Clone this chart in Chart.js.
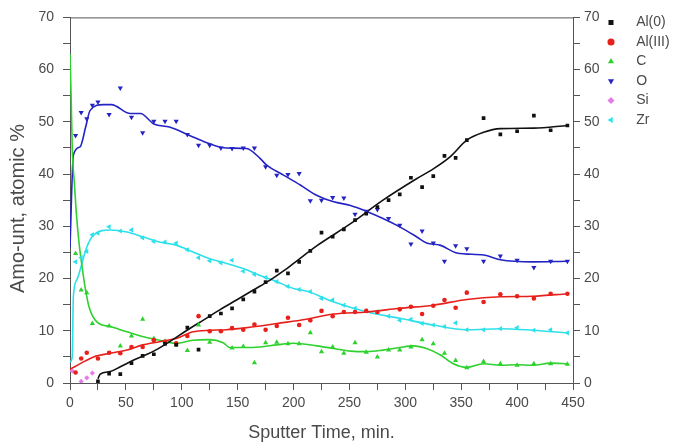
<!DOCTYPE html>
<html>
<head>
<meta charset="utf-8">
<script src="https://cdn.jsdelivr.net/npm/chart.js@4.4.1/dist/chart.umd.min.js"></script>
<style>
  html, body { margin: 0; padding: 0; background: #fff; }
  #wrap { width: 677px; height: 448px; }
</style>
</head>
<body>
<div id="wrap"><canvas id="depthProfile"></canvas></div>
<script>
// sputter time (min) / atomic % pairs
const al0Points = [[25,0.3],[35,1.8],[45,1.7],[55,3.8],[65,5.2],[75,5.5],[85,7.5],[95,7.3],[105,10.6],[115,6.4],
  [125,12.8],[135,13.3],[145,14.3],[155,16],[165,17.5],[175,19.3],[185,21.5],[195,21],[205,23.2],[215,25.3],
  [225,28.8],[235,28],[245,29.4],[255,31.2],[265,32.4],[275,33.7],[285,35],[295,36.1],[305,39.3],[315,37.5],
  [325,39.6],[335,43.5],[345,43.1],[355,46.5],[370,50.7],[385,47.6],[400,48.2],[415,51.2],[430,48.4],[445,49.3]];
const al3Points = [[5,2],[10,4.7],[15,5.8],[25,4.7],[35,5.8],[45,5.7],[55,6.9],[65,6.9],[75,8.2],[85,7.9],
  [95,7.6],[105,9],[115,12.8],[125,9.9],[135,9.9],[145,10.5],[155,10.2],[165,11.2],[175,10.2],[185,10.9],
  [195,12.5],[205,11.1],[215,12],[225,13.8],[235,12.8],[245,13.6],[255,13.6],[265,13.8],[275,13.6],[295,14.1],
  [305,14.6],[315,13.2],[325,14.8],[335,15.9],[345,14.4],[355,17.3],[370,15.5],[385,17],[400,16.6],[415,16.2],
  [430,17.1],[445,17.1]];
const cPoints = [[5,24.8],[10,17.8],[15,17.3],[20,11.4],[35,10.9],[45,7.1],[55,9],[65,12.2],[75,8.5],[85,8],
  [95,7.4],[105,6.2],[115,11.1],[125,7.8],[145,6.7],[155,7],[165,3.9],[175,7.7],[185,7.8],[195,7.5],[205,7.5],
  [215,9.6],[225,6],[235,6.9],[245,5.7],[255,7.7],[265,5.9],[275,5],[285,6.3],[295,6.3],[305,6.9],[315,8.3],
  [325,7.5],[335,5.7],[345,4.3],[355,2.9],[370,4.1],[385,3.7],[400,3.4],[415,3.7],[430,3.7],[445,3.6]];
const oPoints = [[5,47.4],[10,51.8],[15,50.6],[20,53.2],[25,53.8],[35,51.4],[45,56.5],[55,50.9],[65,47.9],[75,50.1],
  [85,50.1],[95,50.1],[105,47.6],[115,45.5],[125,45.5],[135,45],[145,44.9],[155,45],[165,45],[175,41.4],
  [185,39.8],[195,39.9],[205,40.1],[215,34.9],[225,35],[235,35.5],[245,35.4],[255,32.3],[265,32.9],[275,33.2],
  [285,31.5],[295,30.2],[305,26.6],[315,29.1],[325,26.8],[335,23.3],[345,26.3],[355,25.7],[370,23.3],[385,24.3],
  [400,23.5],[415,22.1],[430,23.3],[445,23.3]];
const siPoints = [[2,2.3],[10,0.3],[15,1],[20,1.9]];
const zrPoints = [[5,23.2],[10,24],[15,25.2],[20,28.4],[25,28.7],[35,29.9],[45,29.1],[55,29.3],[65,27.8],[75,27.1],
  [85,27],[95,26.8],[105,25.5],[115,24],[125,23.4],[135,23],[145,23.5],[155,21.4],[165,20.8],[175,20.2],
  [185,19.4],[195,18.5],[205,17.9],[215,17.5],[225,16.2],[235,15.9],[245,14.9],[255,14.3],[265,13.8],[275,13.6],
  [285,12.8],[295,12],[305,12.2],[315,11.4],[325,11.1],[335,10.8],[345,11.5],[355,10.2],[370,10.2],[385,10.4],
  [400,10.6],[415,10.1],[430,10.2],[445,9.6]];

// smoothed curves
const al0Curve = [[25,0.8],[27,1.7],[36,2.2],[45,3.1],[57,4.4],[74,6],[89,7.9],[104,10],[119,12],[134,14],[149,15.9],
  [164,17.8],[179,19.7],[192,21.6],[200,22.9],[221,26.3],[251,30.5],[280,35],[310,39.1],[325,41],[340,43.3],
  [355,46.5],[370,48],[385,48.7],[415,48.8],[445,49.3]];
const al3Curve = [[0,2.6],[10,3.8],[21,5],[36,5.7],[51,6.3],[65,7.3],[80,7.9],[95,8.5],[110,9.8],[125,10.1],[140,10.2],
  [155,10.5],[170,10.9],[185,11.4],[206,12],[236,13.2],[266,13.6],[295,14.3],[325,14.9],[355,16],[385,16.5],
  [414,16.6],[445,17.1]];
const cCurve = [[0,63],[1,55],[2,45],[4,38],[5.5,33],[8,27],[11,22],[13,19],[17,14.6],[24,11.7],[36,10.8],[51,9.8],
  [65,8.9],[80,8.2],[95,7.6],[110,8.2],[125,8.3],[137,7.7],[143,6.8],[155,6.8],[170,6.9],[185,7.3],[200,7.6],
  [221,7.1],[236,6.6],[251,6.1],[266,6],[280,6.3],[295,6.8],[307,7.1],[319,6.6],[331,5.4],[343,3.7],[355,3],
  [370,3.7],[385,3.4],[400,3.5],[414,3.4],[430,3.8],[445,3.7]];
const oCurve = [[0,26],[3,43.6],[9,45.2],[14,49],[18,52.2],[30,53.3],[37,53.3],[54,51.6],[63,51.6],[75,49.6],[89,49],
  [110,47.1],[125,45.8],[140,45],[158,44.9],[170,43],[176,41.7],[191,39.8],[206,37.9],[221,35.9],[236,34.7],
  [251,34],[266,32.8],[280,31.5],[295,29.9],[310,28],[319,26.8],[331,26.4],[346,24.9],[370,24.5],[385,23.6],
  [414,23.2],[445,23.3]];
const zrCurve = [[0,4],[2,5],[3,16.5],[6,19.7],[15,26],[21,28.3],[36,29.3],[51,28.9],[65,28],[80,27],[95,26.4],
  [110,25.1],[125,23.8],[140,22.9],[155,21.9],[170,20.6],[185,19.4],[200,18.1],[213,17.5],[236,15.5],[266,13.6],
  [295,12.4],[325,11.1],[355,10.2],[385,10.4],[414,10.1],[445,9.6]];

const seriesNames = ['Al(0)', 'Al(III)', 'C', 'O', 'Si', 'Zr'];
const xTickLabels = [0, 50, 100, 150, 200, 250, 300, 350, 400, 450];
const yTickLabels = [0, 10, 20, 30, 40, 50, 60, 70];

const toXY = arr => arr.map(p => ({x: p[0], y: p[1]}));

const pointSets = [al0Points, al3Points, cPoints, oPoints, siPoints, zrPoints];
const curveSets = [al0Curve, al3Curve, cCurve, oCurve, null, zrCurve];
const colors = ['#111111', '#e8201c', '#2ed12e', '#2424c4', '#e67ae6', '#2ee0ea'];
const markers = [
  {style: 'rect', rot: 0, r: 2.6},
  {style: 'circle', rot: 0, r: 2.3},
  {style: 'triangle', rot: 0, r: 3},
  {style: 'triangle', rot: 180, r: 3},
  {style: 'rectRot', rot: 0, r: 2.6},
  {style: 'triangle', rot: 270, r: 3}
];

const datasets = [];
seriesNames.forEach((name, i) => {
  datasets.push({
    label: name,
    data: toXY(pointSets[i]),
    backgroundColor: colors[i],
    borderColor: colors[i],
    pointStyle: markers[i].style,
    pointRotation: markers[i].rot,
    pointRadius: markers[i].r,
    borderWidth: 0,
    showLine: false
  });
});
seriesNames.forEach((name, i) => {
  if (!curveSets[i]) return;
  datasets.push({
    label: 'fit ' + name,
    data: toXY(curveSets[i]),
    borderColor: colors[i],
    borderWidth: 1.6,
    pointRadius: 0,
    showLine: true,
    cubicInterpolationMode: 'monotone'
  });
});

const axisColor = '#555';
const textColor = '#4a4a4a';
const fontFamily = 'Liberation Sans, Arial, sans-serif';
const tickFont = {family: fontFamily, size: 14};

function yAxis(position, width, pad) {
  return {
    type: 'linear', position: position, min: 0, max: 70,
    afterFit: s => { s.width = width; },
    ticks: {
      stepSize: 5, color: textColor, font: tickFont, padding: pad,
      callback: v => yTickLabels.includes(v) ? v : ''
    },
    grid: {drawOnChartArea: false, drawTicks: true, tickLength: 7, color: axisColor},
    border: {display: true, color: axisColor, width: 1}
  };
}

const topLine = {
  id: 'topLine',
  afterDraw(chart) {
    const {ctx, chartArea} = chart;
    ctx.save();
    ctx.strokeStyle = axisColor;
    ctx.lineWidth = 1;
    ctx.beginPath();
    ctx.moveTo(chartArea.left, chartArea.top + 0.5);
    ctx.lineTo(chartArea.right, chartArea.top + 0.5);
    ctx.stroke();
    ctx.restore();
  }
};

new Chart(document.getElementById('depthProfile'), {
  type: 'scatter',
  data: {datasets: datasets},
  options: {
    responsive: true,
    maintainAspectRatio: false,
    animation: false,
    layout: {padding: {left: 0, right: 0, top: 0, bottom: 0}},
    scales: {
      x: {
        type: 'linear', position: 'bottom', min: 0, max: 450,
        afterFit: s => { s.height = 65; },
        ticks: {
          stepSize: 25, autoSkip: false, maxRotation: 0, color: textColor, font: tickFont, padding: 5,
          callback: v => xTickLabels.includes(v) ? v : ''
        },
        grid: {drawOnChartArea: false, drawTicks: true, tickLength: 7, color: axisColor},
        border: {display: true, color: axisColor, width: 1},
        title: {
          display: true, text: 'Sputter Time, min.', color: textColor,
          font: {family: fontFamily, size: 18},
          padding: {top: 0, bottom: 4}
        }
      },
      y: Object.assign(yAxis('left', 70, 9), {
        title: {
          display: true, text: 'Amo-unt, atomic %   ', color: textColor,
          font: {family: fontFamily, size: 20},
          padding: 6
        }
      }),
      y2: yAxis('right', 26, 4)
    },
    plugins: {
      title: {display: true, text: ' ', font: {size: 14}, padding: 0},
      tooltip: {enabled: false},
      legend: {
        display: true,
        position: 'right',
        align: 'start',
        maxWidth: 78,
        title: {display: true, text: ' ', font: {size: 10, lineHeight: 1}, padding: 0},
        labels: {
          usePointStyle: true,
          boxWidth: 13,
          boxHeight: 5,
          padding: 5.5,
          color: textColor,
          font: {family: fontFamily, size: 14},
          generateLabels: chart => Chart.defaults.plugins.legend.labels.generateLabels(chart)
            .filter(item => item.datasetIndex < seriesNames.length)
            .map(item => Object.assign(item, {text: '   ' + item.text}))
        }
      }
    }
  },
  plugins: [topLine]
});
</script>
</body>
</html>
